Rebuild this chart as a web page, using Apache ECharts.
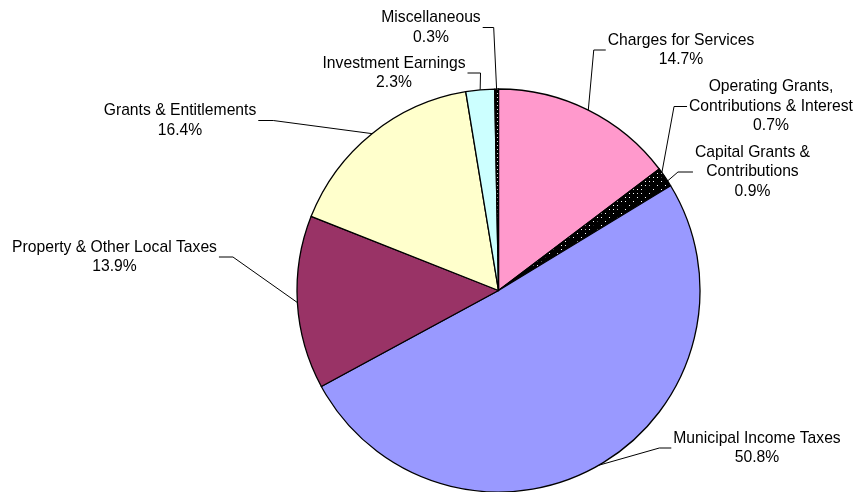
<!DOCTYPE html>
<html>
<head>
<meta charset="utf-8">
<script src="https://cdn.jsdelivr.net/npm/echarts@6/dist/echarts.min.js"></script>
<style>
  html, body { margin: 0; padding: 0; background: #ffffff; }
  #chart { width: 855px; height: 492px; }
</style>
</head>
<body>
<div id="chart"></div>
<script>
// Revenue sources, share of total (%), clockwise from 12 o'clock
const categories = [
  'Charges for Services',
  'Operating Grants,\nContributions & Interest',
  'Capital Grants &\nContributions',
  'Municipal Income Taxes',
  'Property & Other Local Taxes',
  'Grants & Entitlements',
  'Investment Earnings',
  'Miscellaneous'
];
const shares = [14.7, 0.7, 0.9, 50.8, 13.9, 16.4, 2.3, 0.3];

// Slice fills: plain colours, or a dotted black pattern key
const sliceFills = ['#FF99CC', 'dense', 'sparse', '#9999FF', '#993366', '#FFFFCC', '#CCFFFF', 'dense'];

// Label placement (centre of text block) and length of the horizontal leader segment
const labelCenters = [
  [681, 50], [771, 106.5], [752.5, 172], [757, 448],
  [114.5, 257], [180, 120.5], [394, 73], [431, 27.5]
];
const leaderRun = [12, 13, 15, 12, 14, 15, 13, 11];

const pieCenter = [498.5, 290.5];
const pieRadius = 201.5;

// Black tiles speckled with white dots
function dotTile(size, dots) {
  const c = document.createElement('canvas');
  c.width = size; c.height = size;
  const g = c.getContext('2d');
  g.fillStyle = '#000';
  g.fillRect(0, 0, size, size);
  g.fillStyle = '#fff';
  dots.forEach(d => g.fillRect(d[0], d[1], 1, 1));
  return c;
}
const patterns = {
  dense: { image: dotTile(4, [[1, 1]]), repeat: 'repeat' },
  sparse: { image: dotTile(8, [[1, 1], [5, 5]]), repeat: 'repeat' }
};

const pieData = categories.map((name, i) => {
  const f = sliceFills[i];
  return {
    name: name,
    value: shares[i],
    itemStyle: { color: patterns[f] || f }
  };
});

const chart = echarts.init(document.getElementById('chart'), null, { renderer: 'canvas' });

chart.setOption({
  animation: false,
  backgroundColor: '#ffffff',
  series: [{
    type: 'pie',
    center: pieCenter,
    radius: pieRadius,
    startAngle: 90,
    clockwise: true,
    avoidLabelOverlap: false,
    emphasis: { disabled: true },
    data: pieData,
    itemStyle: { borderColor: '#000000', borderWidth: 1.3 },
    label: {
      show: true,
      position: 'outside',
      color: '#000000',
      fontFamily: '"Liberation Sans", Arial, sans-serif',
      fontSize: 15.7,
      lineHeight: 19.5,
      align: 'center',
      formatter: p => p.name + '\n' + p.value.toFixed(1) + '%'
    },
    labelLine: {
      show: true,
      length: 10,
      length2: 10,
      lineStyle: { color: '#000000', width: 1 }
    },
    labelLayout: function (params) {
      const i = params.dataIndex;
      const lx = labelCenters[i][0];
      const ly = labelCenters[i][1];
      const w = params.labelRect.width;
      const onRight = lx > pieCenter[0];
      const edge = onRight ? lx - w / 2 - 2 : lx + w / 2 + 2;
      const elbow = onRight ? edge - leaderRun[i] : edge + leaderRun[i];
      let start = params.labelLinePoints && params.labelLinePoints[0];
      if (!start) {
        start = [pieCenter[0], pieCenter[1] - pieRadius];
      }
      return {
        x: lx,
        y: ly,
        align: 'center',
        verticalAlign: 'middle',
        labelLinePoints: [[start[0], start[1]], [elbow, ly], [edge, ly]]
      };
    }
  }]
});
</script>
</body>
</html>
